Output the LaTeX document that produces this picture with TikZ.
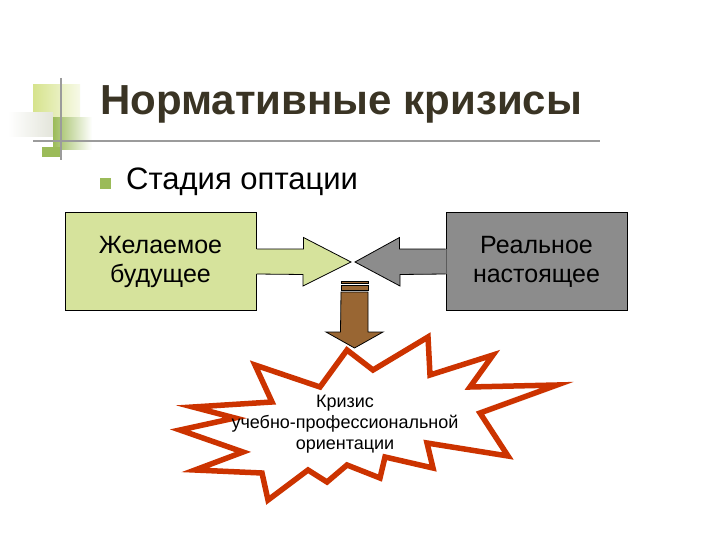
\documentclass[tikz,border=0pt]{standalone}
\usepackage{fontspec}
\setmainfont{Liberation Sans}
\usepackage{xcolor}
\usetikzlibrary{calc}

\definecolor{titletext}{RGB}{58,52,36}
\definecolor{wishgreen}{RGB}{214,227,156}
\definecolor{realgray}{RGB}{140,140,140}
\definecolor{dropbrown}{RGB}{153,102,51}
\definecolor{burstred}{RGB}{204,51,0}
\definecolor{bulletgreen}{RGB}{155,187,89}
\definecolor{palegreen}{RGB}{214,227,140}
\definecolor{rulegray}{RGB}{155,155,155}

\begin{document}
\begin{tikzpicture}[x=1pt, y=-1pt,
  box/.style={draw=black, line width=1pt, inner sep=0pt, minimum height=97pt,
    align=center, font=\fontsize{25}{29}\selectfont},
  blockarrow/.style={draw=black, line width=0.8pt, line join=miter}]
\fill[white] (0,0) rectangle (720,540);
\useasboundingbox (0,0) rectangle (720,540);
% corner squares
\shade[left color=palegreen, right color=palegreen!20!white] (33,85) rectangle (80,122);%
\shade[left color=white, right color=palegreen!40!gray!30!white] (8,113) rectangle (53,137);%
\shade[left color=bulletgreen, right color=white] (53,118) rectangle (92,150);%
\fill[bulletgreen] (42,147) rectangle (62,157);%
\draw[rulegray, line width=2pt] (61,78) -- (61,160);%
\draw[rulegray, line width=2.5pt] (33,141) -- (600,141);%
% title and bullet
\node[anchor=base west, inner sep=0pt, text=titletext,
  font=\fontsize{42}{50}\selectfont\bfseries] (title) at (100,115) {Нормативные кризисы};%
\fill[bulletgreen] (100,178) rectangle (111,189);%
\node[anchor=base west, inner sep=0pt, font=\fontsize{31}{36}\selectfont]
  (stage) at (126,190) {Стадия оптации};%
% the two boxes
\node[box, fill=wishgreen, minimum width=191pt] (wish) at (160.5,261.5) {Желаемое\\будущее};%
\node[box, fill=realgray, minimum width=181pt] (real) at (536.5,261.5) {Реальное\\настоящее};%
\coordinate (tipL) at (351,262);
\coordinate (tipR) at (355,262);
\fill[wishgreen] ($(wish.east)+(-1,-12.5)$) -- ++(48,0) -- ++(0,-11.5)
  -- (tipL) -- ++(-48,24) -- ++(0,-11.5) -- ($(wish.east)+(-1,12.5)$) -- cycle;%
\draw[blockarrow] ($(wish.east)+(0,-12.5)$) -- ++(47,0) -- ++(0,-11.5)
  -- (tipL) -- ++(-48,24) -- ++(0,-11.5) -- ($(wish.east)+(0,12.5)$);%
\fill[realgray] ($(real.west)+(1,-12.5)$) -- ++(-47,0) -- ++(0,-11.5)
  -- (tipR) -- ++(45,24) -- ++(0,-11.5) -- ($(real.west)+(1,12.5)$) -- cycle;%
\draw[blockarrow] ($(real.west)+(0,-12.5)$) -- ++(-46,0) -- ++(0,-11.5)
  -- (tipR) -- ++(45,24) -- ++(0,-11.5) -- ($(real.west)+(0,12.5)$);%
% burst
\filldraw[burstred, fill=white, line width=5.5pt, line join=miter, miter limit=25]
  (180,430) -- (235,418) -- (193,407) -- (272,402) -- (255,365) -- (320,387)
  -- (347,350) -- (373,370) -- (428,337) -- (430,375) -- (493,355) -- (470,387)
  -- (557,385) -- (480,413) -- (508,456) -- (427,443) -- (433,468) -- (385,457)
  -- (380,478) -- (347,465) -- (327,482) -- (308,470) -- (268,500) -- (262,473)
  -- (195,470) -- (243,452) -- cycle;%
\node[align=center, inner sep=0pt, font=\fontsize{18}{21}\selectfont]
  (crisis) at (345,424) {Кризис\\учебно-профессиональной\\ориентации};%
% striped down arrow
\coordinate (drop) at (354.5,281);
\coordinate (hit) at (354.5,348);
\filldraw[blockarrow, fill=dropbrown] ($(drop)+(-13.5,0)$) rectangle ++(27,2);%
\filldraw[blockarrow, fill=dropbrown] ($(drop)+(-13.5,4)$) rectangle ++(27,5);%
\filldraw[blockarrow, fill=dropbrown] ($(drop)+(-13.5,11)$) -- ++(27,0) -- ++(0,40)
  -- ++(15,0) -- (hit) -- ($(hit)+(-28.5,-16)$) -- ++(14.5,0) -- cycle;%
\end{tikzpicture}
\end{document}
